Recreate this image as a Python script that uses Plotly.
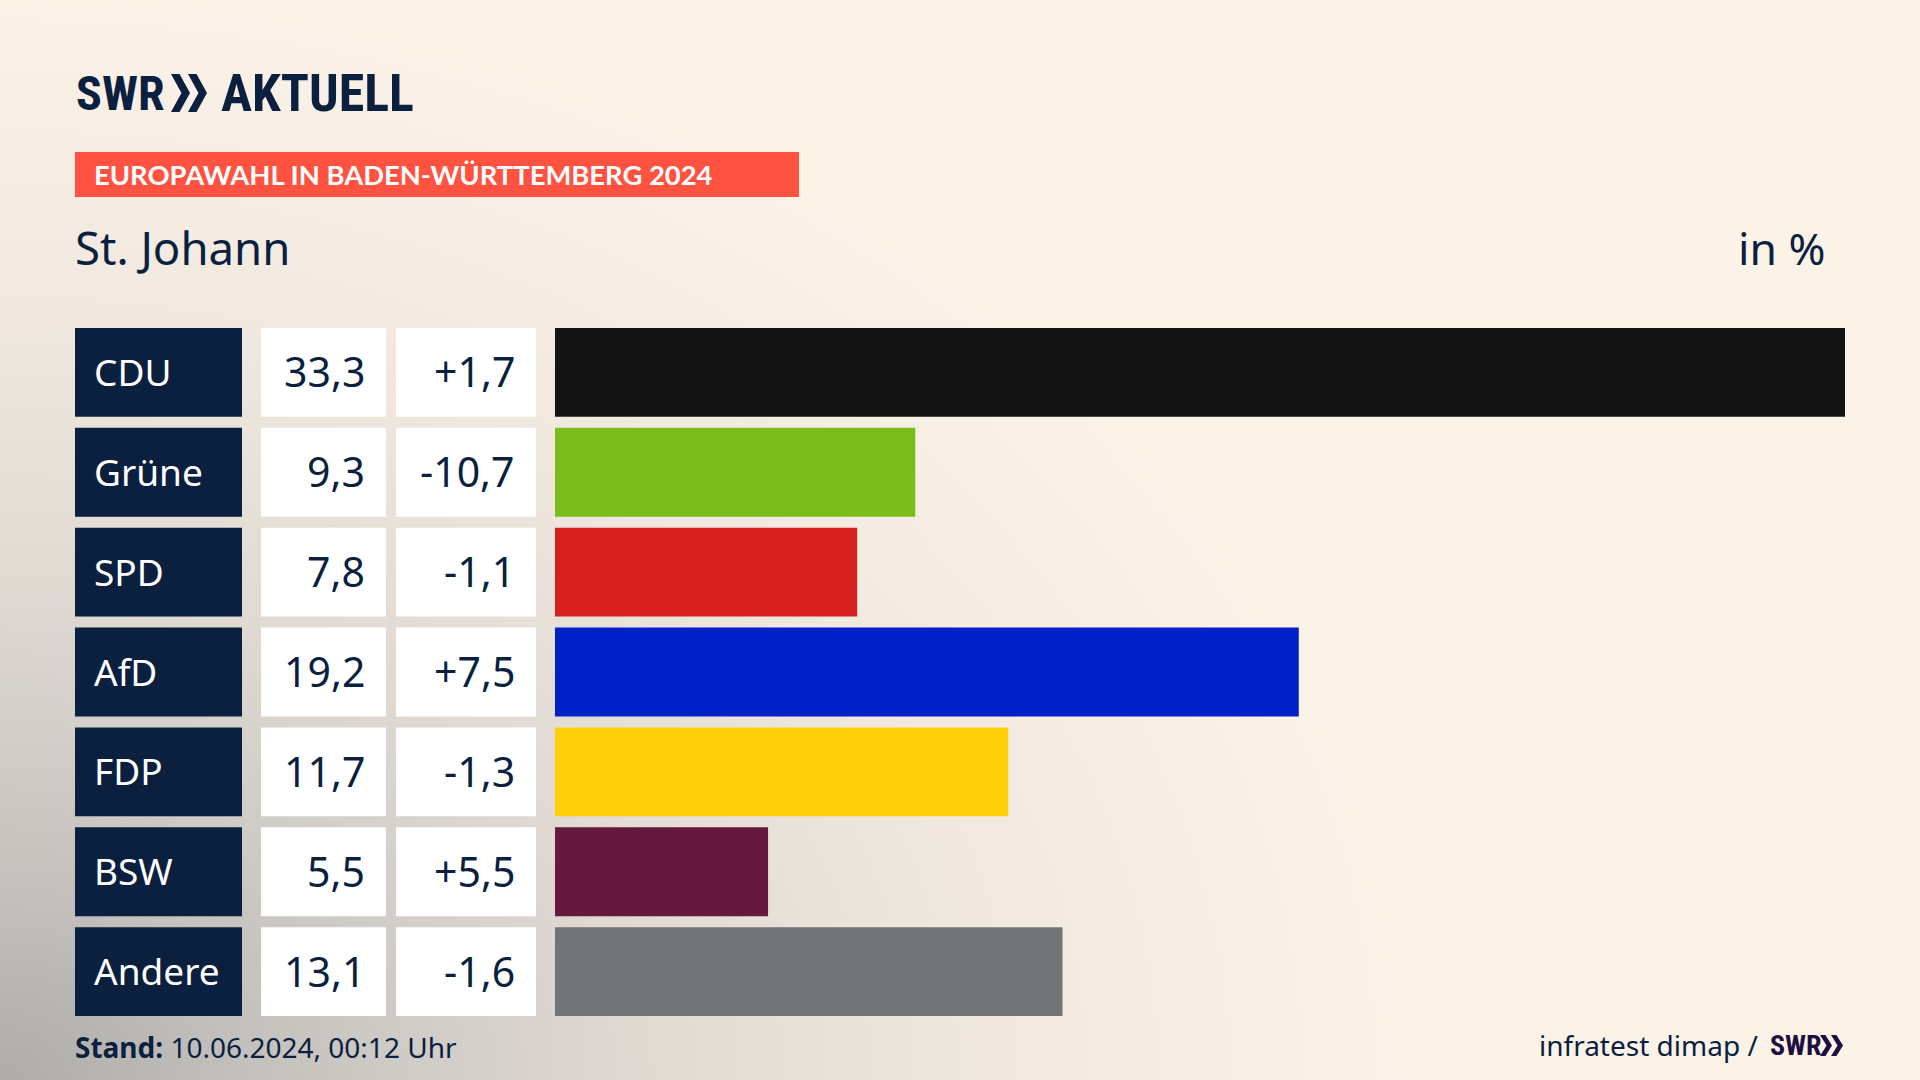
import base64
import plotly.graph_objects as go

# Chart data
parties = ["CDU", "Grüne", "SPD", "AfD", "FDP", "BSW", "Andere"]
shares = [33.3, 9.3, 7.8, 19.2, 11.7, 5.5, 13.1]
changes = ["+1,7", "-10,7", "-1,1", "+7,5", "-1,3", "+5,5", "-1,6"]
bar_colors = ["#141414", "#7abd1a", "#d71f1d", "#0021c7", "#ffcf0a", "#66183d", "#717375"]

W, H = 1920, 1080
NAVY = "#0b1f3f"
PURPLE = "#1e0f3f"
FONT = "Noto Sans"
LOGO_FONT = "Roboto Condensed, Lato"


def px(x):
    return x / W


def py(y):
    return 1 - y / H


def label(text, x, y, size, anchor="left", color=NAVY, family=FONT, yref="paper", lift=0):
    return dict(text=text, x=px(x), y=py(y) if yref == "paper" else y, xref="paper", yref=yref,
                xanchor=anchor, yanchor="middle", showarrow=False, yshift=lift,
                font=dict(size=size, color=color, family=family))


def chevron(x0, y0, w, h, color):
    # one ">" of the SWR logo, in paper coordinates
    t = w * 0.45
    pts = [(x0, y0), (x0 + t, y0), (x0 + w, y0 + h / 2), (x0 + t, y0 + h),
           (x0, y0 + h), (x0 + w - t, y0 + h / 2)]
    path = "M " + " L ".join(f"{px(a):.5f} {py(b):.5f}" for a, b in pts) + " Z"
    return dict(type="path", path=path, xref="paper", yref="paper",
                fillcolor=color, line=dict(width=0), layer="above")


# Background: cream with grey glow out of the lower left corner
svg = f"""<svg xmlns="http://www.w3.org/2000/svg" width="{W}" height="{H}">
<defs><radialGradient id="g" gradientUnits="userSpaceOnUse" cx="0" cy="0" r="1"
gradientTransform="translate(0 {H}) scale(1400 1080)">
<stop offset="0" stop-color="#adacaa"/>
<stop offset="0.2" stop-color="#c6c3bf"/>
<stop offset="0.45" stop-color="#dfd9d2"/>
<stop offset="0.7" stop-color="#f0e8de"/>
<stop offset="1" stop-color="#fbf2e8"/>
</radialGradient></defs>
<rect width="{W}" height="{H}" fill="#fbf2e8"/>
<rect width="{W}" height="{H}" fill="url(#g)"/>
</svg>"""
bg_uri = "data:image/svg+xml;base64," + base64.b64encode(svg.encode()).decode()

fig = go.Figure()

# Result bars
fig.add_trace(go.Bar(y=parties, x=shares, orientation="h", marker=dict(color=bar_colors, line_width=0),
                     xaxis="x", yaxis="y", hovertemplate="%{y}: %{x}<extra></extra>"))
# Table cells, each column on its own x axis
fig.add_trace(go.Bar(y=parties, x=[1] * 7, orientation="h", marker=dict(color=NAVY, line_width=0),
                     xaxis="x2", yaxis="y", hoverinfo="skip"))
fig.add_trace(go.Bar(y=parties, x=[1] * 7, orientation="h", marker=dict(color="white", line_width=0),
                     xaxis="x3", yaxis="y", hoverinfo="skip"))
fig.add_trace(go.Bar(y=parties, x=[1] * 7, orientation="h", marker=dict(color="white", line_width=0),
                     xaxis="x4", yaxis="y", hoverinfo="skip"))

hidden = dict(visible=False, fixedrange=True)
annotations = [
    label("<b>SWR</b>", 74, 93, 48, family=LOGO_FONT),
    label("<b>AKTUELL</b>", 219, 93, 52, family=LOGO_FONT),
    label("<b>EUROPAWAHL IN BADEN-WÜRTTEMBERG 2024</b>", 91.5, 175, 27.4, color="white", family="Lato"),
    label("St. Johann", 73, 248, 45.5, lift=1),
    label("in %", 1828, 248, 44.5, anchor="right", lift=1),
    label("<b>Stand:</b> 10.06.2024, 00:12 Uhr", 73, 1047, 28),
    label("infratest dimap /", 1760, 1045, 28, anchor="right"),
    label("<b>SWR</b>", 1768, 1045, 28, color=PURPLE, family=LOGO_FONT),
]
for party, share, change in zip(parties, shares, changes):
    annotations.append(label(party, 92, party, 37, color="white", yref="y", lift=1))
    annotations.append(label(f"{share:.1f}".replace(".", ","), 367, party, 41, anchor="right", yref="y", lift=1))
    annotations.append(label(change, 517, party, 41, anchor="right", yref="y", lift=1))

shapes = [
    dict(type="rect", xref="paper", yref="paper", x0=px(75), x1=px(799), y0=py(197), y1=py(152),
         fillcolor="#ff5240", line=dict(width=0), layer="below"),
    chevron(171, 74, 19, 38, NAVY),
    chevron(188, 74, 19, 38, NAVY),
    chevron(1820, 1035, 12, 21, PURPLE),
    chevron(1831, 1035, 12, 21, PURPLE),
]

fig.update_layout(
    width=W, height=H,
    margin=dict(l=0, r=0, t=0, b=0),
    paper_bgcolor="#fbf2e8",
    plot_bgcolor="rgba(0,0,0,0)",
    showlegend=False,
    bargap=0.11,
    xaxis=dict(domain=[px(555), px(1845)], range=[0, 33.3], **hidden),
    xaxis2=dict(domain=[px(75), px(242)], range=[0, 1], **hidden),
    xaxis3=dict(domain=[px(261), px(386)], range=[0, 1], **hidden),
    xaxis4=dict(domain=[px(396), px(536)], range=[0, 1], **hidden),
    yaxis=dict(domain=[py(1021.5), py(322.5)], autorange="reversed", **hidden),
    images=[dict(source=bg_uri, xref="paper", yref="paper", x=0, y=1, sizex=1, sizey=1,
                 sizing="stretch", xanchor="left", yanchor="top", layer="below")],
    annotations=annotations,
    shapes=shapes,
)

fig.write_html("out.html", config=dict(displayModeBar=False),
               post_script="document.body.style.margin='0';")
